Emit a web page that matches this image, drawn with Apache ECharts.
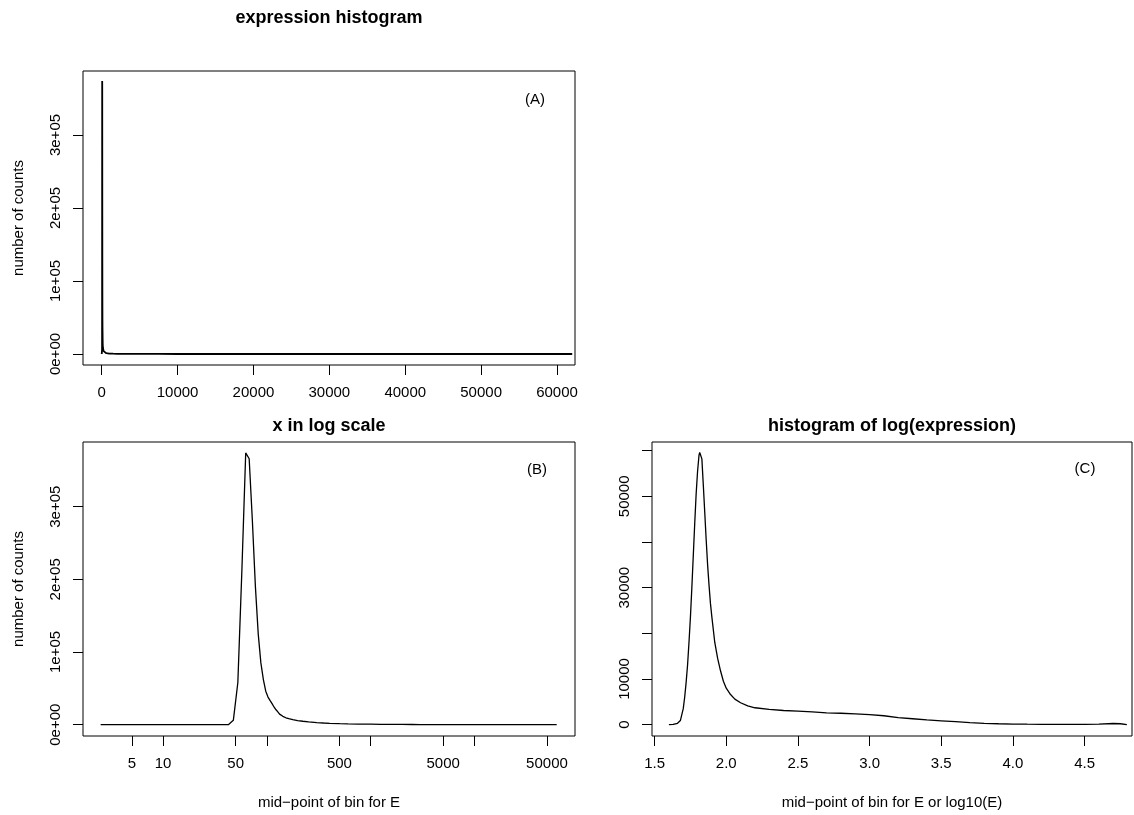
<!DOCTYPE html>
<html>
<head>
<meta charset="utf-8">
<script src="https://cdn.jsdelivr.net/npm/echarts@6/dist/echarts.min.js"></script>
<style>
html,body{margin:0;padding:0;background:#fff;}
#chart{width:1134px;height:815px;}
</style>
</head>
<body>
<div id="chart"></div>
<script>
// ---------- data ----------
// histogram of E with linear bins (used in panels A and B)
const histMids = [2.5, 7.5, 12.5, 17.5, 22.5, 27.5, 32.5, 37.5, 42.5, 47.5, 52.5, 57.5, 62.5, 67.5, 72.5, 77.5, 82.5, 87.5, 92.5, 97.5, 102.5, 107.5, 112.5, 117.5, 122.5, 127.5, 132.5, 142.5, 152.5, 162.5, 177.5, 197.5, 222.5, 252.5, 302.5, 352.5, 402.5, 502.5, 602.5, 752.5, 1002.5, 1252.5, 1502.5, 2002.5, 2502.5, 3002.5, 4002.5, 5002.5, 6002.5, 7502.5, 10002.5, 15002.5, 20002.5, 30002.5, 40002.5, 50002.5, 62002.5];
const histCounts = [0, 0, 0, 0, 0, 0, 0, 0, 0, 6000, 58000, 215000, 374000, 366000, 280000, 190000, 125000, 85000, 62000, 46000, 38000, 33000, 28500, 24000, 20500, 17500, 14500, 11500, 9500, 8200, 6800, 5600, 4700, 3900, 2900, 2300, 1900, 1400, 1100, 850, 650, 500, 400, 300, 230, 180, 120, 90, 70, 50, 30, 15, 10, 5, 3, 3, 5];

// histogram of log10(E) (panel C)
const logMids = [1.60, 1.63, 1.66, 1.68, 1.70, 1.71, 1.72, 1.73, 1.74, 1.75, 1.76, 1.77, 1.78, 1.79, 1.80, 1.81, 1.815, 1.82, 1.83, 1.84, 1.85, 1.86, 1.87, 1.88, 1.89, 1.90, 1.92, 1.94, 1.96, 1.98, 2.00, 2.03, 2.06, 2.10, 2.15, 2.20, 2.30, 2.40, 2.50, 2.60, 2.70, 2.80, 2.90, 3.00, 3.10, 3.20, 3.30, 3.40, 3.50, 3.60, 3.70, 3.80, 3.90, 4.00, 4.10, 4.20, 4.30, 4.40, 4.50, 4.60, 4.70, 4.75, 4.795];
const logCounts = [0, 50, 300, 900, 3500, 6000, 9200, 13000, 18000, 23500, 30000, 37000, 44000, 50500, 55500, 59000, 59600, 59500, 58200, 52500, 46500, 40500, 35000, 30500, 26500, 23500, 18000, 14500, 11800, 9500, 8000, 6600, 5600, 4800, 4100, 3700, 3350, 3100, 2950, 2800, 2600, 2500, 2350, 2200, 1950, 1550, 1300, 1050, 850, 650, 450, 300, 200, 130, 100, 80, 70, 70, 80, 120, 250, 200, 0];

// tick values / labels
const aXTicks = [0, 10000, 20000, 30000, 40000, 50000, 60000];
const countTicks = [0, 100000, 200000, 300000];
const bXTickValues = [5, 10, 50, 100, 500, 1000, 5000, 10000, 50000];
const bXLabelValues = [5, 10, 50, 500, 5000, 50000];
const cXTicks = [1.5, 2.0, 2.5, 3.0, 3.5, 4.0, 4.5];
const cYTicks = [0, 10000, 20000, 30000, 40000, 50000, 60000];
const cYLabels = [0, 10000, 30000, 50000];

// ---------- chart ----------
const FONT = '"Liberation Sans", Arial, Helvetica, sans-serif';
const FS = 15;
const chart = echarts.init(document.getElementById('chart'), null, {renderer: 'canvas'});

const sciFmt = v => v === 0 ? '0e+00' : Math.round(v / 1e5) + 'e+05';
const lg = v => Math.log10(v);

function xAx(gi, min, max, ticks, labels, fmt) {
  return {
    type: 'value', gridIndex: gi, min: min, max: max, position: 'bottom',
    axisLine: {show: false, onZero: false},
    splitLine: {show: false},
    axisTick: {show: true, inside: false, length: 10, customValues: ticks, lineStyle: {color: '#000', width: 1}},
    axisLabel: {show: true, customValues: labels, margin: 20, color: '#000', fontFamily: FONT, fontSize: FS, formatter: fmt, hideOverlap: false, showMinLabel: true, showMaxLabel: true}
  };
}
function yAx(gi, min, max, ticks, labels, fmt) {
  return {
    type: 'value', gridIndex: gi, min: min, max: max, position: 'left',
    axisLine: {show: false, onZero: false},
    splitLine: {show: false},
    axisTick: {show: true, inside: false, length: 10, customValues: ticks, lineStyle: {color: '#000', width: 1}},
    axisLabel: {show: true, customValues: labels, rotate: 90, margin: 20, color: '#000', fontFamily: FONT, fontSize: FS, formatter: fmt, hideOverlap: false, showMinLabel: true, showMaxLabel: true}
  };
}

const gridStyle = {show: true, borderColor: '#000', borderWidth: 1, backgroundColor: 'transparent', containLabel: false, outerBoundsMode: 'none'};

function txt(x, y, s, opts) {
  opts = opts || {};
  return {
    type: 'text', x: x, y: y, rotation: opts.rot || 0, silent: true,
    style: {
      text: s, fill: '#000',
      font: (opts.bold ? 'bold ' : '') + (opts.size || FS) + 'px ' + FONT,
      textAlign: 'center', textVerticalAlign: 'middle'
    }
  };
}

const option = {
  animation: false,
  backgroundColor: '#fff',
  grid: [
    Object.assign({left: 83, top: 71, width: 492, height: 294}, gridStyle),
    Object.assign({left: 83, top: 442, width: 492, height: 294}, gridStyle),
    Object.assign({left: 652, top: 442, width: 480, height: 294}, gridStyle)
  ],
  xAxis: [
    xAx(0, -2466, 62372, aXTicks, aXTicks, v => String(Math.round(v))),
    xAx(1, 0.228, 4.969, bXTickValues.map(lg), bXLabelValues.map(lg), v => String(Math.round(Math.pow(10, v)))),
    xAx(2, 1.482, 4.831, cXTicks, cXTicks, v => v.toFixed(1))
  ],
  yAxis: [
    yAx(0, -15068, 387671, countTicks, countTicks, sciFmt),
    yAx(1, -15600, 389000, countTicks, countTicks, sciFmt),
    yAx(2, -2482, 61898, cYTicks, cYLabels, v => String(Math.round(v)))
  ],
  series: [
    {type: 'line', xAxisIndex: 0, yAxisIndex: 0, showSymbol: false, symbol: 'none', silent: true,
     lineStyle: {color: '#000', width: 1.8},
     data: histMids.map((m, i) => [m, histCounts[i]])},
    {type: 'line', xAxisIndex: 1, yAxisIndex: 1, showSymbol: false, symbol: 'none', silent: true,
     lineStyle: {color: '#000', width: 1.3},
     data: histMids.map((m, i) => [lg(m), histCounts[i]])},
    {type: 'line', xAxisIndex: 2, yAxisIndex: 2, showSymbol: false, symbol: 'none', silent: true,
     lineStyle: {color: '#000', width: 1.3},
     data: logMids.map((m, i) => [m, logCounts[i]])}
  ],
  graphic: [
    txt(329, 18, 'expression histogram', {bold: true, size: 18}),
    txt(329, 426, 'x in log scale', {bold: true, size: 18}),
    txt(892, 426, 'histogram of log(expression)', {bold: true, size: 18}),
    txt(535, 100, '(A)'),
    txt(537, 470, '(B)'),
    txt(1085, 469, '(C)'),
    txt(19, 218, 'number of counts', {rot: Math.PI / 2}),
    txt(19, 589, 'number of counts', {rot: Math.PI / 2}),
    txt(329, 803, 'mid\u2212point of bin for E'),
    txt(892, 803, 'mid\u2212point of bin for E or log10(E)')
  ]
};
chart.setOption(option);
</script>
</body>
</html>
